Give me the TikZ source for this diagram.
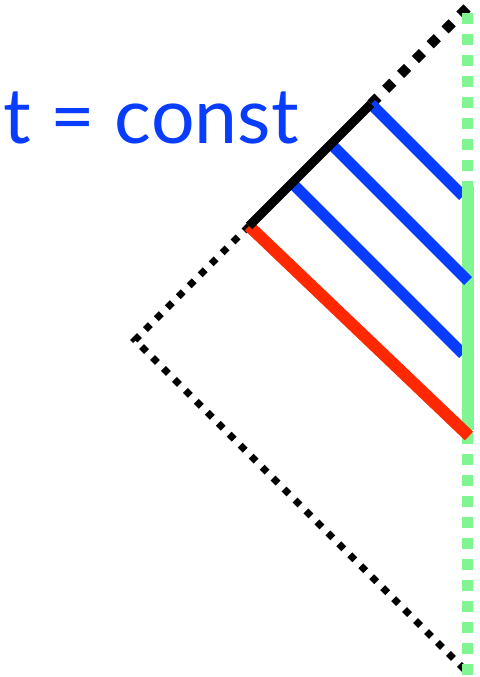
\documentclass[tikz,border=0pt]{standalone}
\usepackage{fontspec}
\setmainfont{Lato}
\definecolor{cblue}{RGB}{8,60,255}
\definecolor{cred}{RGB}{255,40,0}
\definecolor{cgreen}{RGB}{128,245,145}
\tikzset{
  bigdots/.style={line width=10pt, dash pattern=on 10pt off 11pt},
  smalldots/.style={line width=7pt, dash pattern=on 7pt off 8.5pt},
  greendots/.style={cgreen, line width=11pt, dash pattern=on 11pt off 10pt},
  greenbar/.style={cgreen, line width=12pt},
  bluebar/.style={cblue, line width=11pt},
  redbar/.style={cred, line width=12pt},
  blackbar/.style={black, line width=9pt},
  lbl/.style={text=cblue, font=\fontsize{77}{90}\selectfont, inner sep=0pt, anchor=base west}
}
\begin{document}
\begin{tikzpicture}[x=1pt,y=-1pt]
\useasboundingbox (0,0) rectangle (479,677);
\coordinate (T) at (467,8);
\coordinate (L) at (135,340);
\coordinate (B) at (467,672);
\coordinate (P1) at (249,226);
\coordinate (P2) at (371,104);
\coordinate (Q2) at (331,144);
\coordinate (Q3) at (292,183);
\coordinate (E1) at (463,196);
\coordinate (E2) at (468,281);
\coordinate (E3) at (463,354);
\coordinate (ER) at (469,436);
\coordinate (GT) at (467,13);
\coordinate (GB) at (467,690);
\coordinate (S1) at (468,186);
\coordinate (S2) at (468,430);
% dotted light cone
\draw[bigdots] (T) -- (P2);
\draw[smalldots] (P1) -- (L) -- (B);
% blue lines under the green bar
\draw[bluebar] (P2) -- (E1);
\draw[bluebar] (Q3) -- (E3);
% green boundary
\draw[greendots] (GT) -- (GB);
\draw[greenbar] (S1) -- (S2);
% lines on top
\draw[bluebar] (Q2) -- (E2);
\draw[redbar] (P1) -- (ER);
\draw[blackbar] (P1) -- (P2);
\node[lbl] (lab) at (3,143) {t = const};
\end{tikzpicture}
\end{document}
